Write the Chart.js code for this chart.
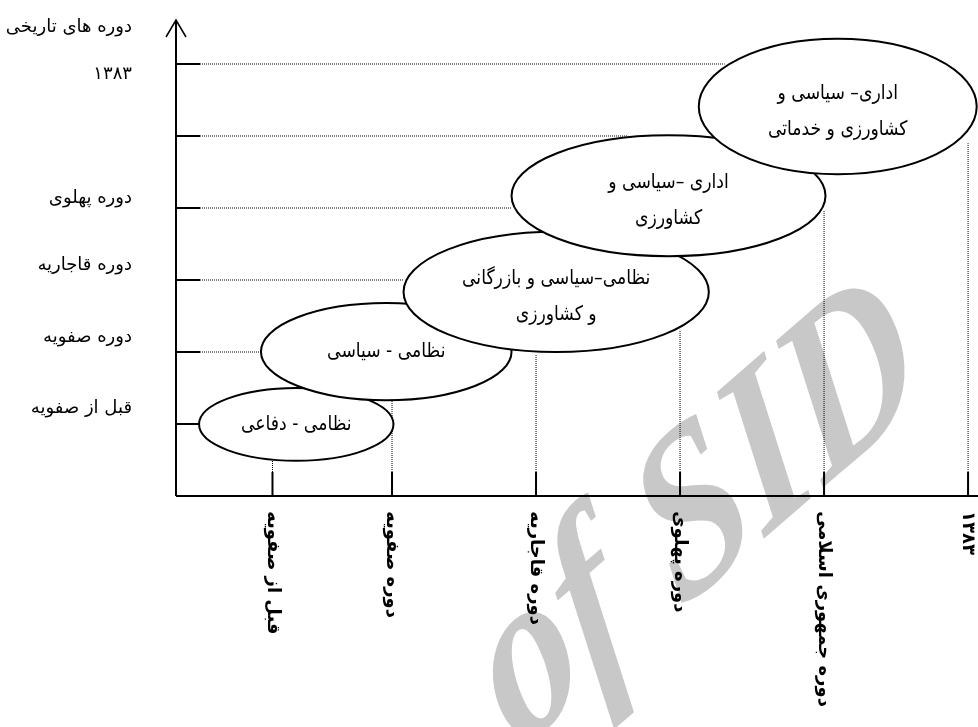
<!DOCTYPE html>
<html>
<head>
<meta charset="utf-8">
<script src="https://cdn.jsdelivr.net/npm/chart.js@4/dist/chart.umd.min.js"></script>
<style>
  html, body { margin: 0; padding: 0; background: #fff; }
  #wrap { width: 978px; height: 727px; }
</style>
</head>
<body>
<div id="wrap"><canvas id="chart"></canvas></div>
<script>
// periods along the bottom (x)
const periods = ['قبل از صفویه', 'دوره صفویه', 'دوره قاجاریه', 'دوره پهلوی', 'دوره جمهوری اسلامی', '۱۳۸۳'];
const periodAt = [1.17, 2, 3, 4, 5, 6];
const periodReach = [0.49, 1.33, 1.96, 2.31, 3.97, 4.9]; // where each dotted riser meets an ellipse

// levels up the side (y)
const levels = [1, 2, 3, 4, 5, 6];
const levelReach = [0.66, 1.09, 2.08, 2.83, 3.64, 4.31];
const yLabels = ['دوره های تاریخی', '۱۳۸۳', 'دوره پهلوی', 'دوره قاجاریه', 'دوره صفویه', 'قبل از صفویه'];
const yLabelAt = [6.51, 5.85, 4.13, 3.21, 2.2, 1.22];

// functions of each period, and the span each ellipse covers
const roles = [
    ['نظامی - دفاعی'],
    ['نظامی - سیاسی'],
    ['نظامی–سیاسی و بازرگانی', 'و کشاورزی'],
    ['اداری –سیاسی و', 'کشاورزی'],
    ['اداری– سیاسی و', 'کشاورزی و خدماتی']
];
const roleX = [[0.66, 2.01], [1.09, 2.83], [2.08, 4.20], [2.83, 5.01], [4.13, 6.06]];
const roleY = [[0.49, 1.50], [1.33, 2.68], [2.00, 3.67], [3.33, 5.01], [4.47, 6.35]];

const FA = '"DejaVu Sans", sans-serif';
const X_MIN = 0.5;

const dotted = { borderColor: '#000', borderWidth: 1, borderDash: [1, 1], pointRadius: 0, showLine: true, fill: false };

const datasets = [];
levels.forEach((lv, i) => {
    datasets.push({ ...dotted, data: [{ x: X_MIN, y: lv }, { x: levelReach[i], y: lv }] });
});
periodAt.forEach((p, i) => {
    datasets.push({ ...dotted, data: [{ x: p, y: 0 }, { x: p, y: periodReach[i] }] });
});

// the source page is a little narrower than it is tall, so text gets squeezed sideways
function squeezed(ctx, s, x, y, sx) {
    ctx.save();
    ctx.translate(x, y);
    ctx.scale(sx, 1);
    ctx.fillText(s, 0, 0);
    ctx.restore();
}

const diagram = {
    id: 'diagram',
    beforeDatasetsDraw(chart) {
        // faint watermark behind everything
        const ctx = chart.ctx;
        ctx.save();
        ctx.translate(700, 520);
        ctx.scale(0.75, 1);
        ctx.rotate(-33 * Math.PI / 180);
        ctx.fillStyle = '#c8c8c8';
        ctx.textBaseline = 'middle';
        ctx.textAlign = 'center';
        ctx.font = 'bold italic 240px "Liberation Serif"';
        ctx.fillText('of SID', 0, 0);
        ctx.restore();
    },
    afterDatasetsDraw(chart) {
        const ctx = chart.ctx;
        const xs = chart.scales.x, ys = chart.scales.y;
        const area = chart.chartArea;
        const x0 = xs.getPixelForValue(X_MIN), y0 = ys.getPixelForValue(0);
        ctx.save();
        ctx.strokeStyle = '#000';
        ctx.lineWidth = 2;

        // solid tick marks
        ctx.beginPath();
        periodAt.forEach(p => {
            const px = xs.getPixelForValue(p);
            ctx.moveTo(px, y0); ctx.lineTo(px, y0 - 24);
        });
        levels.forEach(lv => {
            const py = ys.getPixelForValue(lv);
            ctx.moveTo(x0, py); ctx.lineTo(x0 + 24, py);
        });
        ctx.stroke();

        // axes
        ctx.beginPath();
        ctx.moveTo(x0, y0); ctx.lineTo(area.right, y0);
        ctx.moveTo(x0, y0); ctx.lineTo(x0, area.top);
        ctx.stroke();
        ctx.lineWidth = 1.5;
        ctx.beginPath();
        ctx.moveTo(x0 - 10, area.top + 17); ctx.lineTo(x0, area.top); ctx.lineTo(x0 + 10, area.top + 17);
        ctx.stroke();

        // ellipses with their text
        ctx.direction = 'rtl';
        roles.forEach((lines, i) => {
            const l = xs.getPixelForValue(roleX[i][0]), r = xs.getPixelForValue(roleX[i][1]);
            const t = ys.getPixelForValue(roleY[i][1]), b = ys.getPixelForValue(roleY[i][0]);
            const cx = (l + r) / 2, cy = (t + b) / 2;
            ctx.beginPath();
            ctx.ellipse(cx, cy, (r - l) / 2, (b - t) / 2, 0, 0, Math.PI * 2);
            ctx.fillStyle = '#fff';
            ctx.fill();
            ctx.lineWidth = 2;
            ctx.stroke();
            ctx.fillStyle = '#000';
            ctx.font = '20px ' + FA;
            ctx.textAlign = 'center';
            ctx.textBaseline = 'middle';
            const lh = 36;
            const start = cy + (lines.length > 1 ? 5 : 0) - (lines.length - 1) * lh / 2;
            lines.forEach((s, k) => squeezed(ctx, s, cx, start + k * lh, 0.86));
        });

        // period labels, turned to read downwards
        ctx.font = 'bold 18px ' + FA;
        ctx.textAlign = 'left';
        ctx.textBaseline = 'middle';
        periods.forEach((s, i) => {
            ctx.save();
            ctx.translate(xs.getPixelForValue(periodAt[i]), y0 + 15);
            ctx.rotate(Math.PI / 2);
            ctx.fillText(s, 0, 0);
            ctx.restore();
        });
        ctx.restore();
    }
};

new Chart(document.getElementById('chart'), {
    type: 'scatter',
    data: { datasets: datasets },
    options: {
        responsive: true,
        maintainAspectRatio: false,
        animation: false,
        layout: { padding: { top: 20, bottom: 231, left: 0, right: 0 } },
        plugins: { legend: { display: false }, tooltip: { enabled: false } },
        events: [],
        scales: {
            x: { type: 'linear', min: X_MIN, max: 6.069, display: false },
            y: {
                type: 'linear', position: 'left', min: 0, max: 6.611,
                grid: { display: false, drawTicks: false },
                border: { display: false },
                afterBuildTicks: axis => { axis.ticks = yLabelAt.map(v => ({ value: v })); },
                afterFit: axis => {
                    axis.width = 176;
                    axis.paddingTop = 0;
                    axis.paddingBottom = 0;
                },
                ticks: {
                    autoSkip: false,
                    padding: 44,
                    color: '#000',
                    font: { family: FA, size: 18 },
                    callback: (v, i) => yLabels[i]
                }
            }
        }
    },
    plugins: [diagram]
});
</script>
</body>
</html>
